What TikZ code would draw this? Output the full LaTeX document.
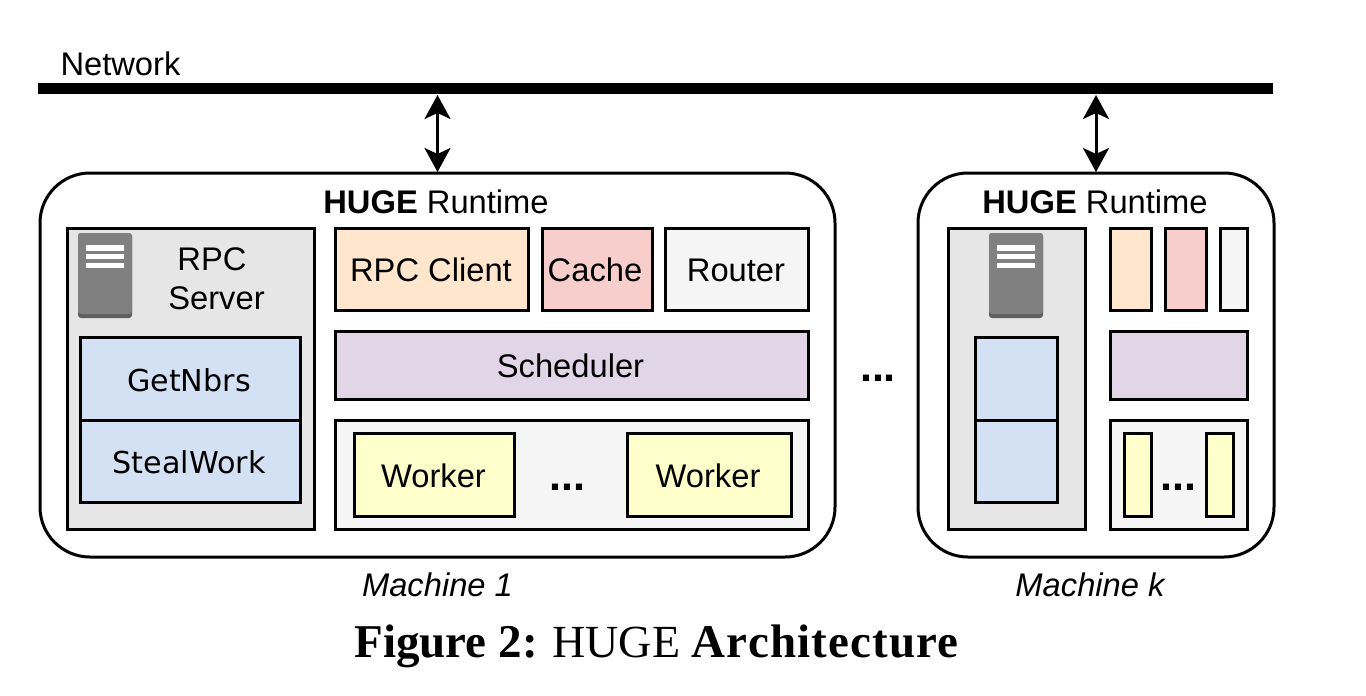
\documentclass[tikz,border=0pt]{standalone}
\usepackage{fontspec}
\setmainfont{Liberation Sans}
\newfontfamily\vfont{DejaVu Sans}
\newfontfamily\capfont{Liberation Serif}
\newfontfamily\capspaced[LetterSpace=2.4]{Liberation Serif}
\usetikzlibrary{arrows.meta}
\definecolor{cgrey}{HTML}{E6E6E6}
\definecolor{cblue}{HTML}{D4E1F5}
\definecolor{corange}{HTML}{FFE6CC}
\definecolor{cred}{HTML}{F8CECC}
\definecolor{clight}{HTML}{F5F5F5}
\definecolor{cpurple}{HTML}{E1D5E7}
\definecolor{cyellow}{HTML}{FFFFCC}
\definecolor{iconbody}{HTML}{808080}
\definecolor{iconfoot}{HTML}{5E5E5E}
\tikzset{
  x=1pt,y=-1pt,
  boxstyle/.style={draw=black,line width=3pt,inner sep=0pt,outer sep=0pt,text depth=0pt,font=\fontsize{32.7}{36}\selectfont},
  machine/.style={boxstyle,line width=3pt,fill=white,rounded corners=50pt},
  label/.style={inner sep=0pt,outer sep=0pt,anchor=base,font=\fontsize{32.7}{36}\selectfont},
  dotslabel/.style={label,font=\bfseries\fontsize{43}{46}\selectfont},
  link/.style={line width=3pt,{Stealth[length=24pt,width=26pt,inset=6pt]}-{Stealth[length=24pt,width=26pt,inset=6pt]},shorten <=1pt,shorten >=1pt},
  vtext/.style={font=\vfont\fontsize{30.2}{34}\selectfont},
}
\newcommand{\bx}[7]{\node[boxstyle,#2,minimum width={(#5-#3)*1pt},minimum height={(#6-#4)*1pt}] (#1) at ({(#3+#5)/2},{(#4+#6)/2}) {#7};}
\newcommand{\tx}[5]{\node[label,#2] (#1) at (#3,#4) {#5};}
\newcommand{\srvicon}[1]{%
  \fill[iconfoot,rounded corners=3pt] (#1,233) rectangle (#1+54,318);
  \fill[iconbody,rounded corners=3pt] (#1,233) rectangle (#1+54,314);
  \fill[white] (#1+8,245) rectangle (#1+46,250.5);
  \fill[white] (#1+8,254) rectangle (#1+46,259);
  \fill[white] (#1+8,263) rectangle (#1+46,268);
}
\begin{document}
\begin{tikzpicture}
\useasboundingbox (0,0) rectangle (1366,696);
\fill[white] (0,0) rectangle (1366,696);
% network
\node[fill=black,inner sep=0pt,outer sep=0pt,minimum width=1235pt,minimum height=11pt] (bar) at (655.5,88.5) {};
\node[label,anchor=base west] (net) at (60.5,75) {Network};
% machines
\bx{m1}{machine}{40}{173}{835}{557}{}
\bx{mk}{machine}{918}{173}{1274}{557}{}
\draw[link] (m1.north) -- (m1.north |- bar.south);
\draw[link] (mk.north) -- (mk.north |- bar.south);
\node[label] (t1) at (436,213) {\textbf{HUGE} Runtime};
\node[label] (tk) at (1095,213) {\textbf{HUGE} Runtime};
% machine 1
\bx{srv1}{fill=cgrey}{67}{228}{314}{529}{}
\srvicon{78}
\node[label] (rpc1) at (212,270) {RPC};
\node[label] (rpc2) at (216.5,309) {Server};
\bx{nbrs}{fill=cblue}{80}{337}{300}{420}{}
\bx{steal}{fill=cblue}{80}{420}{300}{502}{}
\tx{nbrst}{vtext}{189}{391}{GetNbrs}
\tx{stealt}{vtext}{189}{473}{StealWork}
\bx{cli}{fill=corange}{335}{228}{528}{310}{}
\bx{cache}{fill=cred}{542}{228}{652}{310}{}
\bx{router}{fill=clight}{665}{228}{808}{310}{}
\bx{sched}{fill=cpurple}{335}{331}{808}{399}{}
\tx{clit}{}{431}{281}{RPC Client}
\tx{cachet}{}{595}{281}{Cache}
\tx{routert}{}{736}{281}{Router}
\tx{schedt}{}{570.5}{377}{Scheduler}
\bx{wbox}{fill=clight}{335}{420}{808}{529}{}
\bx{w1}{fill=cyellow}{354}{433}{514}{516}{}
\bx{w2}{fill=cyellow}{627}{433}{791}{516}{}
\tx{w1t}{}{433.5}{487}{Worker}
\tx{w2t}{}{708}{487}{Worker}
\tx{d1}{dotslabel}{567.5}{490}{...}
\tx{d0}{dotslabel}{878}{381}{...}
% machine k
\bx{srvk}{fill=cgrey}{948}{228}{1085}{529}{}
\srvicon{989}
\bx{bk1}{fill=cblue}{975}{337}{1057}{420}{}
\bx{bk2}{fill=cblue}{975}{420}{1057}{502}{}
\bx{ck}{fill=corange}{1110}{228}{1151}{310}{}
\bx{rk}{fill=cred}{1165}{228}{1206}{310}{}
\bx{gk}{fill=clight}{1220}{228}{1247}{310}{}
\bx{pk}{fill=cpurple}{1110}{331}{1247}{399}{}
\bx{wk}{fill=clight}{1110}{420}{1247}{529}{}
\bx{y1}{fill=cyellow}{1124}{433}{1151}{516}{}
\bx{y2}{fill=cyellow}{1206}{433}{1233}{516}{}
\tx{d2}{dotslabel}{1178}{490}{...}
% labels
\node[label,font=\itshape\fontsize{32.7}{36}\selectfont] (l1) at (437.5,596) {Machine 1};
\node[label,font=\itshape\fontsize{32.7}{36}\selectfont] (lk) at (1090,596) {Machine k};
\node[label,font=\capfont\fontsize{47}{50}\selectfont] (cap) at (657,657) {\textbf{Figure 2:} \hspace{-1pt}{\fontsize{46}{50}\selectfont HUGE} {\capspaced\textbf{Architecture}}};
\end{tikzpicture}
\end{document}
